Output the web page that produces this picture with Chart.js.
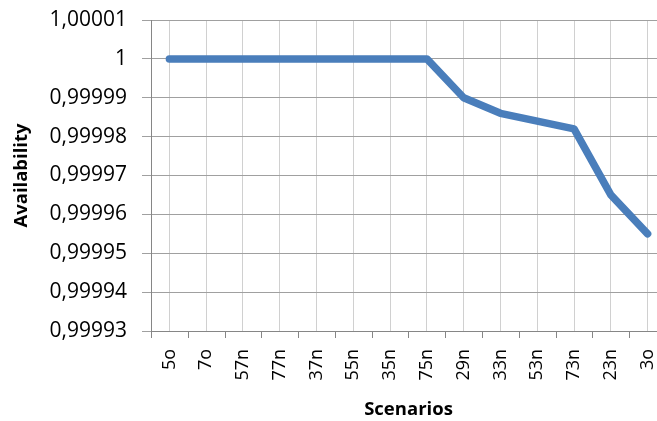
<!DOCTYPE html>
<html>
<head>
<meta charset="utf-8">
<script src="https://cdn.jsdelivr.net/npm/chart.js@4"></script>
<style>
  html, body { margin: 0; padding: 0; background: #fff; overflow: hidden; width: 657px; height: 421px; }
  #wrap { position: relative; width: 666px; height: 421px; }
</style>
</head>
<body>
<div id="wrap"><canvas id="c" width="666" height="421"></canvas></div>
<script>
// Scenario availability data
const scenarios = ['5o', '7o', '57n', '77n', '37n', '55n', '35n', '75n', '29n', '33n', '53n', '73n', '23n', '3o'];
const availability = [1, 1, 1, 1, 1, 1, 1, 1, 0.99999, 0.999986, 0.999984, 0.999982, 0.999965, 0.999955];
const availabilityTicks = [0.99993, 0.99994, 0.99995, 0.99996, 0.99997, 0.99998, 0.99999, 1, 1.00001];
const xTitle = 'Scenarios';
const yTitle = 'Availability';

// Decimal comma, trailing zeros dropped (1,00001 / 1 / 0,99999)
function formatTick(v) {
  return v.toFixed(5).replace(/0+$/, '').replace(/\.$/, '').replace('.', ',');
}

// Small tick marks below the category axis, placed between categories
const boundaryTicks = {
  id: 'boundaryTicks',
  afterDraw(chart) {
    const x = chart.scales.x;
    const ctx = chart.ctx;
    const n = x.ticks.length;
    const half = (x.getPixelForTick(1) - x.getPixelForTick(0)) / 2;
    ctx.save();
    ctx.strokeStyle = '#868686';
    ctx.lineWidth = 1;
    ctx.beginPath();
    for (let i = 0; i <= n; i++) {
      const px = Math.round(x.getPixelForTick(0) - half + i * 2 * half) + 0.5;
      ctx.moveTo(px, x.top);
      ctx.lineTo(px, x.top + 7);
    }
    ctx.stroke();
    ctx.restore();
  }
};

new Chart(document.getElementById('c'), {
  type: 'line',
  data: {
    labels: scenarios,
    datasets: [{
      data: availability,
      borderColor: '#4a7ebb',
      borderWidth: 7.5,
      pointRadius: 0,
      pointHoverRadius: 0,
      tension: 0,
      borderCapStyle: 'round',
      borderJoinStyle: 'round',
      fill: false
    }]
  },
  options: {
    responsive: false,
    animation: false,
    devicePixelRatio: 1,
    events: [],
    layout: { padding: { top: 20, left: 0, right: 0, bottom: 0 } },
    plugins: { legend: { display: false }, tooltip: { enabled: false } },
    scales: {
      x: {
        type: 'category',
        offset: true,
        grid: { offset: false, color: '#d0d0d0', drawTicks: false, lineWidth: 1 },
        border: { color: '#868686' },
        ticks: {
          autoSkip: false, minRotation: 90, maxRotation: 90, padding: 18, color: '#000',
          font: { family: 'Open Sans', size: 18 }
        },
        title: {
          display: true, text: xTitle, color: '#000',
          font: { family: 'Open Sans', size: 18.5, weight: 'bold' },
          padding: { top: 0, bottom: 0 }
        },
        afterFit(s) { s.height = 90; s.paddingLeft = 0; s.paddingRight = 0; }
      },
      y: {
        min: 0.99993,
        max: 1.00001,
        afterBuildTicks(s) { s.ticks = availabilityTicks.map(v => ({ value: v })); },
        grid: { color: '#a0a0a0', tickLength: 9 },
        border: { color: '#868686' },
        ticks: {
          padding: 15, color: '#000',
          font: { family: 'Open Sans', size: 21 },
          callback: v => formatTick(v)
        },
        title: {
          display: true, text: yTitle, color: '#000',
          font: { family: 'Open Sans', size: 18.5, weight: 'bold' },
          padding: { top: 11, bottom: 0 }
        },
        afterFit(s) { s.width = 151; s.paddingTop = 0; s.paddingBottom = 0; }
      }
    }
  },
  plugins: [boundaryTicks]
});
</script>
</body>
</html>
